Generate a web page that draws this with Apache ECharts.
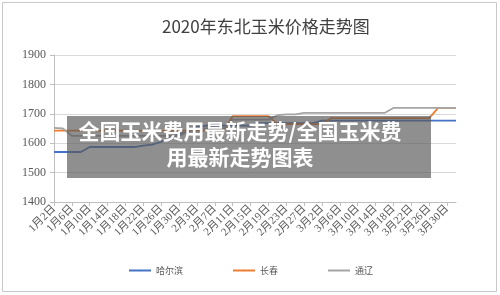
<!DOCTYPE html>
<html><head><meta charset="utf-8">
<script src="https://cdn.jsdelivr.net/npm/echarts@6/dist/echarts.min.js"></script>
<style>html,body{margin:0;padding:0;background:#fff}#c{width:500px;height:295px}</style>
</head><body><div id="c"></div>
<script>
var title = '2020年东北玉米价格走势图';
var overlayLine1 = '全国玉米费用最新走势/全国玉米费';
var overlayLine2 = '用最新走势图表';
var seriesNames = ['哈尔滨', '长春', '通辽'];
var dates = ['1月2日','1月4日','1月6日','1月8日','1月10日','1月12日','1月14日','1月16日','1月18日','1月20日',
  '1月22日','1月24日','1月26日','1月28日','1月30日','2月1日','2月3日','2月5日','2月7日','2月9日',
  '2月11日','2月13日','2月15日','2月17日','2月19日','2月21日','2月23日','2月25日','2月27日','2月29日',
  '3月2日','3月4日','3月6日','3月8日','3月10日','3月12日','3月14日','3月16日','3月18日','3月20日',
  '3月22日','3月24日','3月26日','3月28日','3月30日','4月1日'];
var harbin = [1570,1570,1570,1570,1587,1587,1587,1587,1587,1587,
  1592,1595,1605,1620,1630,1640,1655,1660,1660,1660,
  1660,1660,1660,1668,1668,1668,1668,1668,1668,1668,
  1677,1677,1677,1677,1677,1677,1677,1677,1677,1677,
  1677,1677,1677,1677,1677,1677];
var changchun = [1643,1643,1643,1643,1643,1643,1643,1643,1643,1643,
  1643,1643,1643,1643,1643,1643,1643,1643,1643,1643,
  1692,1692,1692,1692,1692,1665,1665,1665,1665,1665,
  1665,1685,1685,1685,1685,1685,1685,1685,1685,1685,
  1685,1685,1685,1720,1720,1720];
var tongliao = [1652,1650,1625,1625,1625,1625,1625,1625,1625,1625,
  1625,1625,1625,1625,1625,1640,1650,1650,1650,1650,
  1680,1680,1680,1680,1680,1695,1698,1698,1703,1703,
  1703,1703,1703,1703,1703,1703,1703,1703,1720,1720,
  1720,1720,1720,1720,1720,1720];

var chart = echarts.init(document.getElementById('c'), null, {renderer:'canvas'});
var lbl = {color:'#595959', fontFamily:'Liberation Serif, Noto Sans CJK SC'};
chart.setOption({
  animation:false,
  color:['#4472C4','#ED7D31','#A5A5A5'],
  title:{text:title, left:157, top:13, textStyle:{fontSize:17, fontWeight:'normal', color:'#404040', fontFamily:'Noto Sans CJK SC'}},
  legend:{data:seriesNames, left:123, top:261, itemWidth:22, itemHeight:2, itemGap:49,
    textStyle:{fontSize:9, color:'#595959', fontFamily:'Noto Sans CJK SC'}},
  grid:{left:54, right:44, top:55, bottom:93},
  xAxis:{type:'category', data:dates, boundaryGap:false,
    axisLine:{lineStyle:{color:'#bfbfbf'}},
    axisTick:{interval:1, length:4, lineStyle:{color:'#bfbfbf'}},
    axisLabel:Object.assign({interval:1, rotate:45, fontSize:11, margin:5}, lbl)},
  yAxis:{type:'value', min:1400, max:1900, interval:100,
    axisLine:{show:true, lineStyle:{color:'#bfbfbf'}},
    axisTick:{show:true, length:4, lineStyle:{color:'#bfbfbf'}},
    splitLine:{lineStyle:{color:'#d9d9d9'}},
    axisLabel:Object.assign({fontSize:12, margin:8, formatter:function(v){return String(v);}}, lbl)},
  series:[
    {name:seriesNames[0], type:'line', data:harbin, symbol:'none', lineStyle:{width:1.8}},
    {name:seriesNames[1], type:'line', data:changchun, symbol:'none', lineStyle:{width:1.8}},
    {name:seriesNames[2], type:'line', data:tongliao, symbol:'none', lineStyle:{width:1.8}}
  ],
  graphic:[
    {type:'rect', shape:{x:2.5, y:2.5, width:494, height:289}, style:{fill:'none', stroke:'#c8c8c8', lineWidth:1}, z:1},
    {type:'rect', shape:{x:67, y:116, width:364, height:62}, style:{fill:'rgba(90,90,90,0.68)'}, z:100},
    {type:'text', x:240, y:131, style:{text:overlayLine1, fill:'#fff', font:'bold 21px "Noto Sans CJK SC"', textAlign:'center', textVerticalAlign:'middle'}, z:101},
    {type:'text', x:240, y:157, style:{text:overlayLine2, fill:'#fff', font:'bold 21px "Noto Sans CJK SC"', textAlign:'center', textVerticalAlign:'middle'}, z:101}
  ]
});
</script></body></html>
